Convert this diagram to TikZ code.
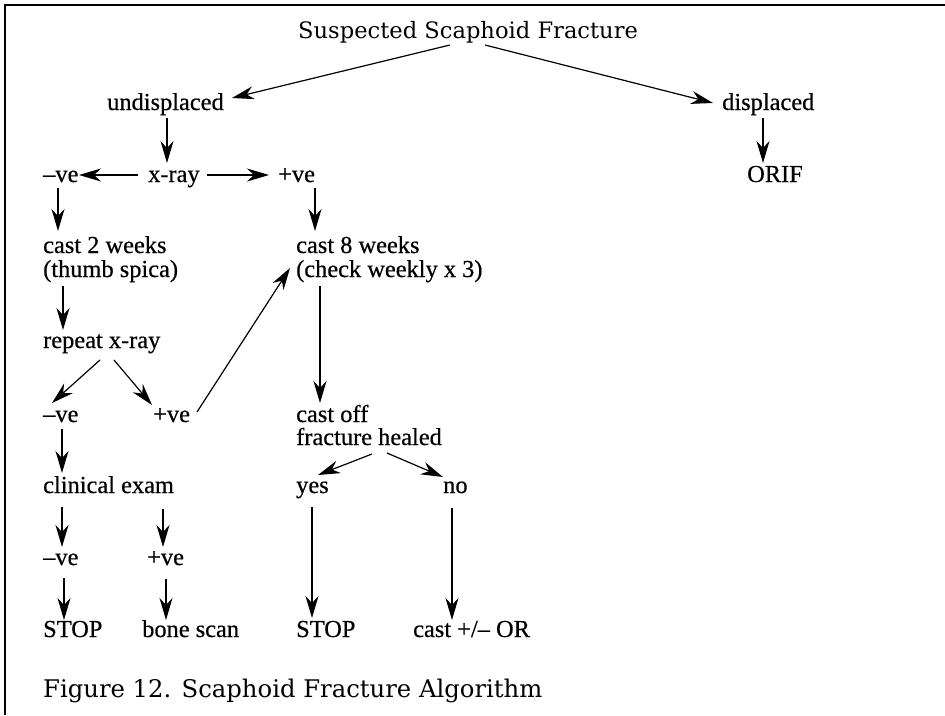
\documentclass[tikz,border=0pt]{standalone}
\usepackage{fontspec}
\setmainfont{Liberation Serif}
\newfontfamily\nodefont[FakeBold=0.5]{Liberation Serif}
\newfontfamily\capfont{DejaVu Serif}
\usetikzlibrary{arrows.meta,calc}
\tikzset{
  lbl/.style={inner sep=0pt, anchor=base west, font=\nodefont\fontsize{24.4}{24}\selectfont},
  ttl/.style={inner sep=0pt, anchor=base west, font=\capfont\fontsize{22.6}{24}\selectfont},
  capt/.style={inner sep=0pt, anchor=base west, font=\capfont\fontsize{24.3}{26}\selectfont},
  arr/.style={line width=1.2pt, -{Stealth[length=22pt,width=13pt,inset=7pt]}},
  frame/.style={line width=1.5pt}
}
\begin{document}
\begin{tikzpicture}[x=1pt,y=-1pt]
\useasboundingbox (0,0) rectangle (945,715);
\fill[white] (0,0) rectangle (945,715);
\coordinate (fc) at (5,5);
\coordinate (fr) at (945,5);
\coordinate (fb) at (5,715);
\draw[frame] (fb) -- (fc) -- (fr);

\node[ttl] (title) at (298,38) {Suspected Scaphoid Fracture};
\node[lbl] (undisp) at (107,110) {undisplaced};
\node[lbl] (disp) at (722,110) {displaced};
\node[lbl] (orif) at (747,182) {ORIF};
\node[lbl] (neg1) at (43,182) {\textendash ve};
\node[lbl] (xray) at (148,182) {x-ray};
\node[lbl] (pos1) at (278,182) {+ve};
\node[lbl] (cast2a) at (43,253) {cast 2 weeks};
\node[lbl] (cast2b) at (43,277) {(thumb spica)};
\node[lbl] (cast8a) at (296,253) {cast 8 weeks};
\node[lbl] (cast8b) at (296,277) {(check weekly x 3)};
\node[lbl] (repeat) at (43,348) {repeat x-ray};
\node[lbl] (neg2) at (43,422) {\textendash ve};
\node[lbl] (pos2) at (153,422) {+ve};
\node[lbl] (castoff) at (296,422) {cast off};
\node[lbl] (healed) at (296,445) {fracture healed};
\node[lbl] (clin) at (43,493) {clinical exam};
\node[lbl] (yes) at (296,493) {yes};
\node[lbl] (no) at (443,493) {no};
\node[lbl] (neg3) at (43,565) {\textendash ve};
\node[lbl] (pos3) at (147,565) {+ve};
\node[lbl] (stop1) at (43,637) {STOP};
\node[lbl] (bone) at (142,637) {bone scan};
\node[lbl] (stop2) at (296,637) {STOP};
\node[lbl] (castor) at (413,637) {cast +/\textendash{} OR};
\node[capt] (caption) at (43,697) {Figure 12. Scaphoid Fracture Algorithm};

\draw[arr] ($(title.base west)+(152,7)$) -- ($(undisp.base west)+(125,-12)$);
\draw[arr] ($(title.base west)+(187,7)$) -- ($(disp.base west)+(-9,-7)$);
\draw[arr] ($(undisp.base west)+(60,8)$) -- ($(xray.base west)+(19,-19)$);
\draw[arr] ($(disp.base west)+(41,8)$) -- ($(orif.base west)+(16,-19)$);
\draw[arr] ($(xray.base west)+(-10,-7)$) -- ($(neg1.base west)+(36,-7)$);
\draw[arr] ($(xray.base west)+(59,-7)$) -- ($(pos1.base west)+(-9,-7)$);
\draw[arr] ($(neg1.base west)+(15,6)$) -- ($(cast2a.base west)+(15,-22)$);
\draw[arr] ($(pos1.base west)+(37,6)$) -- ($(cast8a.base west)+(19,-22)$);
\draw[arr] ($(cast2b.base west)+(20,9)$) -- ($(repeat.base west)+(20,-18)$);
\draw[arr] ($(repeat.base west)+(57,12)$) -- ($(neg2.base west)+(9,-19)$);
\draw[arr] ($(repeat.base west)+(71,12)$) -- ($(pos2.base west)+(-1,-17)$);
\draw[arr] ($(pos2.base west)+(44,-10)$) -- ($(cast8b.base west)+(-6,-9)$);
\draw[arr] ($(cast8b.base west)+(24,9)$) -- ($(castoff.base west)+(24,-19)$);
\draw[arr] ($(healed.base west)+(76,9)$) -- ($(yes.base west)+(22,-18)$);
\draw[arr] ($(healed.base west)+(91,8)$) -- ($(no.base west)+(0,-16)$);
\draw[arr] ($(neg2.base west)+(19,7)$) -- ($(clin.base west)+(19,-20)$);
\draw[arr] ($(clin.base west)+(19,14)$) -- ($(neg3.base west)+(19,-18)$);
\draw[arr] ($(clin.base west)+(120,16)$) -- ($(pos3.base west)+(16,-18)$);
\draw[arr] ($(neg3.base west)+(21,13)$) -- ($(stop1.base west)+(21,-17)$);
\draw[arr] ($(pos3.base west)+(19,14)$) -- ($(bone.base west)+(24,-17)$);
\draw[arr] ($(yes.base west)+(16,14)$) -- ($(stop2.base west)+(16,-19)$);
\draw[arr] ($(no.base west)+(9,15)$) -- ($(castor.base west)+(39,-17)$);
\end{tikzpicture}
\end{document}
